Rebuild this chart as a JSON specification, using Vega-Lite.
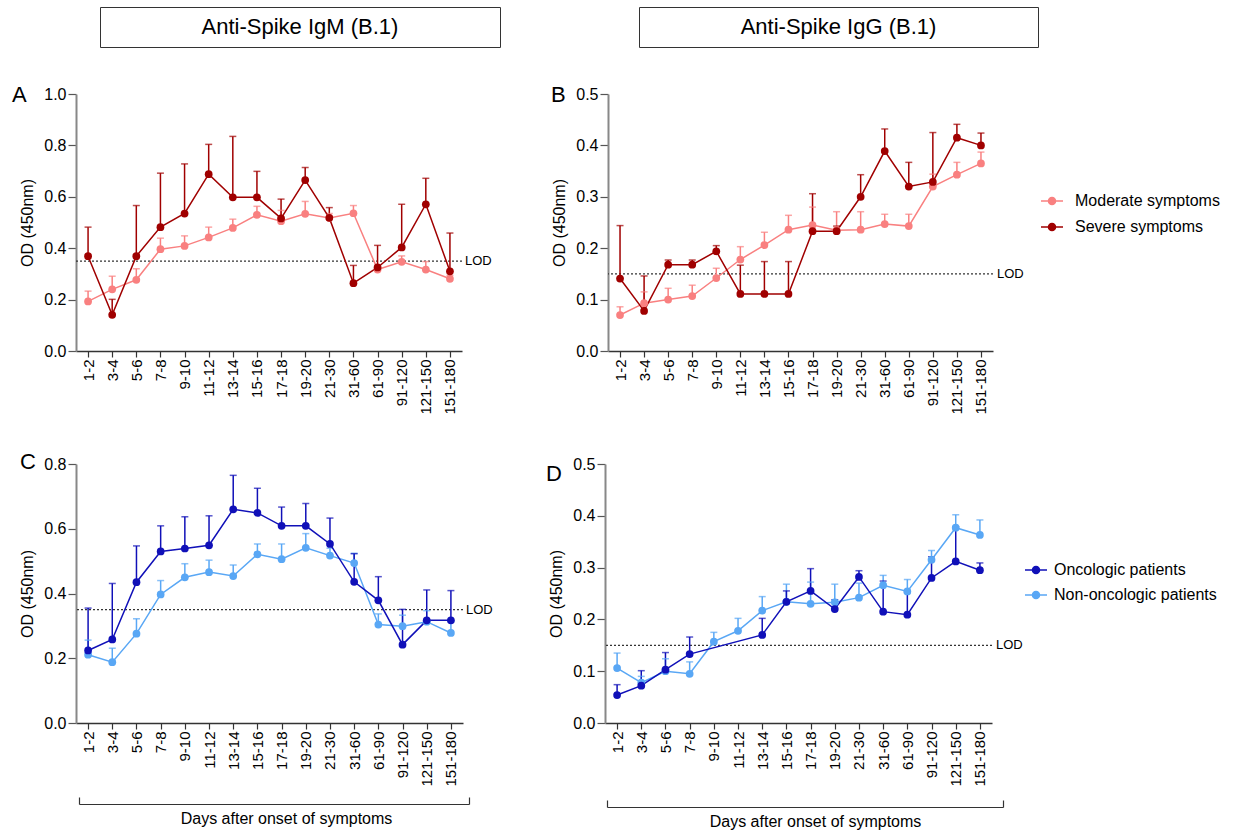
{
"$schema": "https://vega.github.io/schema/vega-lite/v6.json",
"padding": {"left": 12, "top": 6, "right": 2, "bottom": 1},
"background": "white",
"spacing": 36,
"resolve": {"scale": {"color": "independent"}, "legend": {"color": "independent"}},
"config": {
 "font": "Liberation Sans",
 "view": {"stroke": null},
 "axis": {"grid": false, "labelColor": "black", "titleColor": "black", "titleFontWeight": "normal", "labelFont": "Liberation Sans", "titleFont": "Liberation Sans"},
 "axisX": {"labelFontSize": 15, "labelPadding": 2, "tickSize": 6, "tickColor": "#333", "tickWidth": 1.2, "domainColor": "#333", "domainWidth": 1.5},
 "axisY": {"labelFontSize": 16, "titleFontSize": 16, "tickSize": 8, "tickColor": "#555", "tickWidth": 1.2, "domainColor": "#888", "domainWidth": 2, "labelPadding": 2, "titlePadding": 8},
 "legend": {"labelFont": "Liberation Sans", "labelColor": "black", "labelLimit": 0},
 "title": {"font": "Liberation Sans", "color": "black", "fontWeight": "normal"}
},
"datasets": {
 "igm_sym": [
  {"day":"1-2","group":"Moderate symptoms","od":0.193,"hi":0.233},
  {"day":"3-4","group":"Moderate symptoms","od":0.240,"hi":0.291},
  {"day":"5-6","group":"Moderate symptoms","od":0.277,"hi":0.320},
  {"day":"7-8","group":"Moderate symptoms","od":0.396,"hi":0.439},
  {"day":"9-10","group":"Moderate symptoms","od":0.409,"hi":0.448},
  {"day":"11-12","group":"Moderate symptoms","od":0.442,"hi":0.482},
  {"day":"13-14","group":"Moderate symptoms","od":0.479,"hi":0.513},
  {"day":"15-16","group":"Moderate symptoms","od":0.530,"hi":0.563},
  {"day":"17-18","group":"Moderate symptoms","od":0.505,"hi":0.547},
  {"day":"19-20","group":"Moderate symptoms","od":0.534,"hi":0.582},
  {"day":"21-30","group":"Moderate symptoms","od":0.518,"hi":0.535},
  {"day":"31-60","group":"Moderate symptoms","od":0.536,"hi":0.566},
  {"day":"61-90","group":"Moderate symptoms","od":0.317,"hi":0.330},
  {"day":"91-120","group":"Moderate symptoms","od":0.347,"hi":0.370},
  {"day":"121-150","group":"Moderate symptoms","od":0.317,"hi":0.348},
  {"day":"151-180","group":"Moderate symptoms","od":0.281,"hi":0.294},
  {"day":"1-2","group":"Severe symptoms","od":0.369,"hi":0.482},
  {"day":"3-4","group":"Severe symptoms","od":0.141,"hi":0.201},
  {"day":"5-6","group":"Severe symptoms","od":0.369,"hi":0.566},
  {"day":"7-8","group":"Severe symptoms","od":0.482,"hi":0.692},
  {"day":"9-10","group":"Severe symptoms","od":0.535,"hi":0.728},
  {"day":"11-12","group":"Severe symptoms","od":0.688,"hi":0.804},
  {"day":"13-14","group":"Severe symptoms","od":0.598,"hi":0.835},
  {"day":"15-16","group":"Severe symptoms","od":0.598,"hi":0.699},
  {"day":"17-18","group":"Severe symptoms","od":0.516,"hi":0.591},
  {"day":"19-20","group":"Severe symptoms","od":0.665,"hi":0.714},
  {"day":"21-30","group":"Severe symptoms","od":0.518,"hi":0.558},
  {"day":"31-60","group":"Severe symptoms","od":0.264,"hi":0.333},
  {"day":"61-90","group":"Severe symptoms","od":0.325,"hi":0.411},
  {"day":"91-120","group":"Severe symptoms","od":0.403,"hi":0.571},
  {"day":"121-150","group":"Severe symptoms","od":0.571,"hi":0.672},
  {"day":"151-180","group":"Severe symptoms","od":0.310,"hi":0.459}
 ],
 "igg_sym": [
  {"day":"1-2","group":"Moderate symptoms","od":0.070,"hi":0.086},
  {"day":"3-4","group":"Moderate symptoms","od":0.093,"hi":0.115},
  {"day":"5-6","group":"Moderate symptoms","od":0.100,"hi":0.122},
  {"day":"7-8","group":"Moderate symptoms","od":0.107,"hi":0.128},
  {"day":"9-10","group":"Moderate symptoms","od":0.142,"hi":0.161},
  {"day":"11-12","group":"Moderate symptoms","od":0.178,"hi":0.203},
  {"day":"13-14","group":"Moderate symptoms","od":0.206,"hi":0.231},
  {"day":"15-16","group":"Moderate symptoms","od":0.236,"hi":0.264},
  {"day":"17-18","group":"Moderate symptoms","od":0.245,"hi":0.280},
  {"day":"19-20","group":"Moderate symptoms","od":0.235,"hi":0.271},
  {"day":"21-30","group":"Moderate symptoms","od":0.236,"hi":0.271},
  {"day":"31-60","group":"Moderate symptoms","od":0.247,"hi":0.266},
  {"day":"61-90","group":"Moderate symptoms","od":0.243,"hi":0.266},
  {"day":"91-120","group":"Moderate symptoms","od":0.320,"hi":0.344},
  {"day":"121-150","group":"Moderate symptoms","od":0.343,"hi":0.367},
  {"day":"151-180","group":"Moderate symptoms","od":0.365,"hi":0.387},
  {"day":"1-2","group":"Severe symptoms","od":0.141,"hi":0.244},
  {"day":"3-4","group":"Severe symptoms","od":0.078,"hi":0.146},
  {"day":"5-6","group":"Severe symptoms","od":0.168,"hi":0.177},
  {"day":"7-8","group":"Severe symptoms","od":0.168,"hi":0.177},
  {"day":"9-10","group":"Severe symptoms","od":0.194,"hi":0.205},
  {"day":"11-12","group":"Severe symptoms","od":0.111,"hi":0.167},
  {"day":"13-14","group":"Severe symptoms","od":0.111,"hi":0.174},
  {"day":"15-16","group":"Severe symptoms","od":0.111,"hi":0.174},
  {"day":"17-18","group":"Severe symptoms","od":0.233,"hi":0.306},
  {"day":"19-20","group":"Severe symptoms","od":0.233,"hi":0.243},
  {"day":"21-30","group":"Severe symptoms","od":0.300,"hi":0.343},
  {"day":"31-60","group":"Severe symptoms","od":0.389,"hi":0.432},
  {"day":"61-90","group":"Severe symptoms","od":0.320,"hi":0.367},
  {"day":"91-120","group":"Severe symptoms","od":0.329,"hi":0.425},
  {"day":"121-150","group":"Severe symptoms","od":0.415,"hi":0.441},
  {"day":"151-180","group":"Severe symptoms","od":0.400,"hi":0.424}
 ],
 "igm_onc": [
  {"day":"1-2","group":"Non-oncologic patients","od":0.211,"hi":0.256},
  {"day":"3-4","group":"Non-oncologic patients","od":0.188,"hi":0.231},
  {"day":"5-6","group":"Non-oncologic patients","od":0.276,"hi":0.322},
  {"day":"7-8","group":"Non-oncologic patients","od":0.397,"hi":0.440},
  {"day":"9-10","group":"Non-oncologic patients","od":0.450,"hi":0.492},
  {"day":"11-12","group":"Non-oncologic patients","od":0.466,"hi":0.503},
  {"day":"13-14","group":"Non-oncologic patients","od":0.454,"hi":0.488},
  {"day":"15-16","group":"Non-oncologic patients","od":0.521,"hi":0.553},
  {"day":"17-18","group":"Non-oncologic patients","od":0.506,"hi":0.553},
  {"day":"19-20","group":"Non-oncologic patients","od":0.541,"hi":0.585},
  {"day":"21-30","group":"Non-oncologic patients","od":0.517,"hi":0.540},
  {"day":"31-60","group":"Non-oncologic patients","od":0.494,"hi":0.524},
  {"day":"61-90","group":"Non-oncologic patients","od":0.304,"hi":0.337},
  {"day":"91-120","group":"Non-oncologic patients","od":0.299,"hi":0.333},
  {"day":"121-150","group":"Non-oncologic patients","od":0.313,"hi":0.347},
  {"day":"151-180","group":"Non-oncologic patients","od":0.278,"hi":0.313},
  {"day":"1-2","group":"Oncologic patients","od":0.224,"hi":0.355},
  {"day":"3-4","group":"Oncologic patients","od":0.258,"hi":0.431},
  {"day":"5-6","group":"Oncologic patients","od":0.435,"hi":0.547},
  {"day":"7-8","group":"Oncologic patients","od":0.530,"hi":0.609},
  {"day":"9-10","group":"Oncologic patients","od":0.539,"hi":0.637},
  {"day":"11-12","group":"Oncologic patients","od":0.549,"hi":0.640},
  {"day":"13-14","group":"Oncologic patients","od":0.660,"hi":0.765},
  {"day":"15-16","group":"Oncologic patients","od":0.649,"hi":0.725},
  {"day":"17-18","group":"Oncologic patients","od":0.609,"hi":0.667},
  {"day":"19-20","group":"Oncologic patients","od":0.609,"hi":0.678},
  {"day":"21-30","group":"Oncologic patients","od":0.553,"hi":0.633},
  {"day":"31-60","group":"Oncologic patients","od":0.436,"hi":0.523},
  {"day":"61-90","group":"Oncologic patients","od":0.379,"hi":0.452},
  {"day":"91-120","group":"Oncologic patients","od":0.242,"hi":0.351},
  {"day":"121-150","group":"Oncologic patients","od":0.317,"hi":0.411},
  {"day":"151-180","group":"Oncologic patients","od":0.317,"hi":0.409}
 ],
 "igg_onc": [
  {"day":"1-2","group":"Non-oncologic patients","od":0.106,"hi":0.135},
  {"day":"3-4","group":"Non-oncologic patients","od":0.078,"hi":0.090},
  {"day":"5-6","group":"Non-oncologic patients","od":0.100,"hi":0.124},
  {"day":"7-8","group":"Non-oncologic patients","od":0.095,"hi":0.118},
  {"day":"9-10","group":"Non-oncologic patients","od":0.157,"hi":0.175},
  {"day":"11-12","group":"Non-oncologic patients","od":0.178,"hi":0.202},
  {"day":"13-14","group":"Non-oncologic patients","od":0.217,"hi":0.244},
  {"day":"15-16","group":"Non-oncologic patients","od":0.234,"hi":0.268},
  {"day":"17-18","group":"Non-oncologic patients","od":0.230,"hi":0.272},
  {"day":"19-20","group":"Non-oncologic patients","od":0.233,"hi":0.268},
  {"day":"21-30","group":"Non-oncologic patients","od":0.242,"hi":0.270},
  {"day":"31-60","group":"Non-oncologic patients","od":0.266,"hi":0.285},
  {"day":"61-90","group":"Non-oncologic patients","od":0.254,"hi":0.277},
  {"day":"91-120","group":"Non-oncologic patients","od":0.315,"hi":0.333},
  {"day":"121-150","group":"Non-oncologic patients","od":0.377,"hi":0.402},
  {"day":"151-180","group":"Non-oncologic patients","od":0.363,"hi":0.392},
  {"day":"1-2","group":"Oncologic patients","od":0.054,"hi":0.074},
  {"day":"3-4","group":"Oncologic patients","od":0.072,"hi":0.101},
  {"day":"5-6","group":"Oncologic patients","od":0.103,"hi":0.136},
  {"day":"7-8","group":"Oncologic patients","od":0.133,"hi":0.166},
  {"day":"13-14","group":"Oncologic patients","od":0.170,"hi":0.202},
  {"day":"15-16","group":"Oncologic patients","od":0.234,"hi":0.255},
  {"day":"17-18","group":"Oncologic patients","od":0.255,"hi":0.298},
  {"day":"19-20","group":"Oncologic patients","od":0.220,"hi":0.238},
  {"day":"21-30","group":"Oncologic patients","od":0.282,"hi":0.294},
  {"day":"31-60","group":"Oncologic patients","od":0.215,"hi":0.274},
  {"day":"61-90","group":"Oncologic patients","od":0.209,"hi":0.252},
  {"day":"91-120","group":"Oncologic patients","od":0.280,"hi":0.321},
  {"day":"121-150","group":"Oncologic patients","od":0.312,"hi":0.379},
  {"day":"151-180","group":"Oncologic patients","od":0.295,"hi":0.309}
 ]
},
"vconcat": [
 {
  "spacing": 0,
  "hconcat": [
   {"width": 23, "height": 40, "data": {"values": [{"t": ""}]}, "mark": "text", "encoding": {"text": {"field": "t"}}},
   {
    "spacing": 137,
    "hconcat": [
     {"width": 400, "height": 40, "view": {"stroke": "#333", "strokeWidth": 1}, "data": {"values": [{"t": "Anti-Spike IgM (B.1)"}]}, "mark": {"type": "text", "fontSize": 22, "color": "black"}, "encoding": {"text": {"field": "t"}}},
     {"width": 399, "height": 40, "view": {"stroke": "#333", "strokeWidth": 1}, "data": {"values": [{"t": "Anti-Spike IgG (B.1)"}]}, "mark": {"type": "text", "fontSize": 22, "color": "black"}, "encoding": {"text": {"field": "t"}}}
    ]
   }
  ]
 },
 {
  "spacing": 146,
  "bounds": "flush",
  "resolve": {"scale": {"color": "independent"}, "legend": {"color": "independent"}},
  "hconcat": [
   {
    "width": 386, "height": 257,
    "title": {"text": "A", "anchor": "start", "frame": "group", "dx": -64, "offset": -38, "fontSize": 22, "baseline": "alphabetic"},
    "layer": [
     {"data": {"values": [{"label": "LOD"}]}, "mark": {"type": "rule", "strokeDash": [2, 2], "color": "#333", "strokeWidth": 1.2}, "encoding": {"y": {"datum": 0.35, "type": "quantitative", "scale": {"domain": [0, 1], "nice": false}, "title": "OD (450nm)"}}},
     {"data": {"values": [{"label": "LOD"}]}, "mark": {"type": "text", "align": "left", "baseline": "middle", "dx": 15, "fontSize": 13, "color": "black"}, "encoding": {"x": {"datum": "151-180", "type": "ordinal", "scale": {"type": "point", "padding": 0.5, "domain": ["1-2","3-4","5-6","7-8","9-10","11-12","13-14","15-16","17-18","19-20","21-30","31-60","61-90","91-120","121-150","151-180"]}, "title": null}, "y": {"datum": 0.35, "type": "quantitative", "scale": {"domain": [0, 1], "nice": false}, "title": "OD (450nm)"}, "text": {"field": "label"}}},
     {
      "data": {"name": "igm_sym"},
      "encoding": {
       "x": {"field": "day", "type": "ordinal", "title": null, "scale": {"type": "point", "padding": 0.5, "domain": ["1-2","3-4","5-6","7-8","9-10","11-12","13-14","15-16","17-18","19-20","21-30","31-60","61-90","91-120","121-150","151-180"]}, "axis": {"labelAngle": -90}},
       "y": {"field": "od", "type": "quantitative", "title": "OD (450nm)", "scale": {"domain": [0, 1], "nice": false}, "axis": {"values": [0, 0.2, 0.4, 0.6, 0.8, 1.0], "format": ".1f"}},
       "color": {"field": "group", "type": "nominal", "scale": {"domain": ["Moderate symptoms", "Severe symptoms"], "range": ["#F98080", "#A00000"]}, "legend": null}
      },
      "layer": [
       {"mark": {"type": "rule", "strokeWidth": 1.5}, "encoding": {"y2": {"field": "hi"}}},
       {"mark": {"type": "tick", "size": 7, "thickness": 1.5}, "encoding": {"y": {"field": "hi", "type": "quantitative", "title": "OD (450nm)", "scale": {"domain": [0, 1], "nice": false}, "axis": {"values": [0, 0.2, 0.4, 0.6, 0.8, 1.0], "format": ".1f"}}}},
       {"mark": {"type": "line", "strokeWidth": 1.5}},
       {"mark": {"type": "point", "filled": true, "size": 60, "opacity": 1}}
      ]
     }
    ]
   },
   {
    "width": 385, "height": 257,
    "title": {"text": "B", "anchor": "start", "frame": "group", "dx": -57, "offset": -38, "fontSize": 22, "baseline": "alphabetic"},
    "layer": [
     {"data": {"values": [{"label": "LOD"}]}, "mark": {"type": "rule", "strokeDash": [2, 2], "color": "#333", "strokeWidth": 1.2}, "encoding": {"y": {"datum": 0.15, "type": "quantitative", "scale": {"domain": [0, 0.5], "nice": false}, "title": "OD (450nm)"}}},
     {"data": {"values": [{"label": "LOD"}]}, "mark": {"type": "text", "align": "left", "baseline": "middle", "dx": 16, "fontSize": 13, "color": "black"}, "encoding": {"x": {"datum": "151-180", "type": "ordinal", "scale": {"type": "point", "padding": 0.5, "domain": ["1-2","3-4","5-6","7-8","9-10","11-12","13-14","15-16","17-18","19-20","21-30","31-60","61-90","91-120","121-150","151-180"]}, "title": null}, "y": {"datum": 0.15, "type": "quantitative", "scale": {"domain": [0, 0.5], "nice": false}, "title": "OD (450nm)"}, "text": {"field": "label"}}},
     {
      "data": {"name": "igg_sym"},
      "encoding": {
       "x": {"field": "day", "type": "ordinal", "title": null, "scale": {"type": "point", "padding": 0.5, "domain": ["1-2","3-4","5-6","7-8","9-10","11-12","13-14","15-16","17-18","19-20","21-30","31-60","61-90","91-120","121-150","151-180"]}, "axis": {"labelAngle": -90}},
       "y": {"field": "od", "type": "quantitative", "title": "OD (450nm)", "scale": {"domain": [0, 0.5], "nice": false}, "axis": {"values": [0, 0.1, 0.2, 0.3, 0.4, 0.5], "format": ".1f"}},
       "color": {"field": "group", "type": "nominal", "scale": {"domain": ["Moderate symptoms", "Severe symptoms"], "range": ["#F98080", "#A00000"]},
        "legend": {"title": null, "orient": "none", "legendX": 432, "legendY": 95, "padding": 0, "labelFontSize": 16, "labelOffset": 11, "rowPadding": 6, "symbolType": "M-1,0L1,0M0.32,0A0.32,0.32,0,1,1,-0.32,0A0.32,0.32,0,1,1,0.32,0Z", "symbolSize": 484, "symbolStrokeWidth": 1.5,
         "encode": {"symbols": {"update": {
          "fill": [{"test": "datum.value === 'Moderate symptoms'", "value": "#F98080"}, {"value": "#A00000"}],
          "stroke": [{"test": "datum.value === 'Moderate symptoms'", "value": "#F98080"}, {"value": "#A00000"}],
          "strokeWidth": {"value": 1.5}, "opacity": {"value": 1}}}}}}
      },
      "layer": [
       {"mark": {"type": "rule", "strokeWidth": 1.5}, "encoding": {"y2": {"field": "hi"}}},
       {"mark": {"type": "tick", "size": 7, "thickness": 1.5}, "encoding": {"y": {"field": "hi", "type": "quantitative", "title": "OD (450nm)", "scale": {"domain": [0, 0.5], "nice": false}, "axis": {"values": [0, 0.1, 0.2, 0.3, 0.4, 0.5], "format": ".1f"}}}},
       {"mark": {"type": "line", "strokeWidth": 1.5}},
       {"mark": {"type": "point", "filled": true, "size": 60, "opacity": 1}}
      ]
     }
    ]
   }
  ]
 },
 {
  "spacing": 142,
  "bounds": "flush",
  "resolve": {"scale": {"color": "independent"}, "legend": {"color": "independent"}},
  "hconcat": [
   {
    "width": 387, "height": 259,
    "title": {"text": "C", "anchor": "start", "frame": "group", "dx": -56, "offset": -35, "fontSize": 22, "baseline": "alphabetic"},
    "resolve": {"scale": {"x": "independent"}, "axis": {"x": "independent"}},
    "layer": [
     {
      "layer": [
       {"data": {"values": [{"label": "LOD"}]}, "mark": {"type": "rule", "strokeDash": [2, 2], "color": "#333", "strokeWidth": 1.2}, "encoding": {"y": {"datum": 0.35, "type": "quantitative", "scale": {"domain": [0, 0.8], "nice": false}, "title": "OD (450nm)"}}},
       {"data": {"values": [{"label": "LOD"}]}, "mark": {"type": "text", "align": "left", "baseline": "middle", "dx": 15, "fontSize": 13, "color": "black"}, "encoding": {"x": {"datum": "151-180", "type": "ordinal", "scale": {"type": "point", "padding": 0.5, "domain": ["1-2","3-4","5-6","7-8","9-10","11-12","13-14","15-16","17-18","19-20","21-30","31-60","61-90","91-120","121-150","151-180"]}, "title": null, "axis": {"labelAngle": -90, "orient": "bottom"}}, "y": {"datum": 0.35, "type": "quantitative", "scale": {"domain": [0, 0.8], "nice": false}, "title": "OD (450nm)"}, "text": {"field": "label"}}},
       {
        "data": {"name": "igm_onc"},
        "encoding": {
         "x": {"field": "day", "type": "ordinal", "title": null, "scale": {"type": "point", "padding": 0.5, "domain": ["1-2","3-4","5-6","7-8","9-10","11-12","13-14","15-16","17-18","19-20","21-30","31-60","61-90","91-120","121-150","151-180"]}, "axis": {"labelAngle": -90, "orient": "bottom"}},
         "y": {"field": "od", "type": "quantitative", "title": "OD (450nm)", "scale": {"domain": [0, 0.8], "nice": false}, "axis": {"values": [0, 0.2, 0.4, 0.6, 0.8], "format": ".1f"}},
         "color": {"field": "group", "type": "nominal", "scale": {"domain": ["Oncologic patients", "Non-oncologic patients"], "range": ["#1010B8", "#59A7F5"]}, "legend": null}
        },
        "layer": [
         {"mark": {"type": "rule", "strokeWidth": 1.5}, "encoding": {"y2": {"field": "hi"}}},
         {"mark": {"type": "tick", "size": 7, "thickness": 1.5}, "encoding": {"y": {"field": "hi", "type": "quantitative", "title": "OD (450nm)", "scale": {"domain": [0, 0.8], "nice": false}, "axis": {"values": [0, 0.2, 0.4, 0.6, 0.8], "format": ".1f"}}}},
         {"mark": {"type": "line", "strokeWidth": 1.5}},
         {"mark": {"type": "point", "filled": true, "size": 60, "opacity": 1}}
        ]
       }
      ]
     },
     {
      "data": {"values": [{"span": 0}, {"span": 1}]},
      "mark": {"type": "point", "opacity": 0},
      "encoding": {"x": {"field": "span", "type": "quantitative", "scale": {"domain": [0, 1], "range": [3, 393], "nice": false, "zero": false},
       "axis": {"orient": "bottom", "offset": 81, "values": [0, 1], "labels": false, "tickSize": -7, "tickColor": "#333", "tickWidth": 1.2, "domainColor": "#333", "domainWidth": 1.2, "title": "Days after onset of symptoms", "titleFontSize": 16, "titlePadding": 6, "titleX": 210}}}
     }
    ]
   },
   {
    "width": 387, "height": 259,
    "title": {"text": "D", "anchor": "start", "frame": "group", "dx": -59, "offset": -47, "fontSize": 22, "baseline": "alphabetic"},
    "resolve": {"scale": {"x": "independent"}, "axis": {"x": "independent"}},
    "layer": [
     {
      "layer": [
       {"data": {"values": [{"label": "LOD"}]}, "mark": {"type": "rule", "strokeDash": [2, 2], "color": "#333", "strokeWidth": 1.2}, "encoding": {"y": {"datum": 0.15, "type": "quantitative", "scale": {"domain": [0, 0.5], "nice": false}, "title": "OD (450nm)"}}},
       {"data": {"values": [{"label": "LOD"}]}, "mark": {"type": "text", "align": "left", "baseline": "middle", "dx": 16, "fontSize": 13, "color": "black"}, "encoding": {"x": {"datum": "151-180", "type": "ordinal", "scale": {"type": "point", "padding": 0.5, "domain": ["1-2","3-4","5-6","7-8","9-10","11-12","13-14","15-16","17-18","19-20","21-30","31-60","61-90","91-120","121-150","151-180"]}, "title": null, "axis": {"labelAngle": -90, "orient": "bottom"}}, "y": {"datum": 0.15, "type": "quantitative", "scale": {"domain": [0, 0.5], "nice": false}, "title": "OD (450nm)"}, "text": {"field": "label"}}},
       {
        "data": {"name": "igg_onc"},
        "encoding": {
         "x": {"field": "day", "type": "ordinal", "title": null, "scale": {"type": "point", "padding": 0.5, "domain": ["1-2","3-4","5-6","7-8","9-10","11-12","13-14","15-16","17-18","19-20","21-30","31-60","61-90","91-120","121-150","151-180"]}, "axis": {"labelAngle": -90, "orient": "bottom"}},
         "y": {"field": "od", "type": "quantitative", "title": "OD (450nm)", "scale": {"domain": [0, 0.5], "nice": false}, "axis": {"values": [0, 0.1, 0.2, 0.3, 0.4, 0.5], "format": ".1f"}},
         "color": {"field": "group", "type": "nominal", "scale": {"domain": ["Oncologic patients", "Non-oncologic patients"], "range": ["#1010B8", "#59A7F5"]},
          "legend": {"title": null, "orient": "none", "legendX": 419, "legendY": 94, "padding": 0, "labelFontSize": 16, "labelOffset": 6, "rowPadding": 5, "symbolType": "M-1,0L1,0M0.32,0A0.32,0.32,0,1,1,-0.32,0A0.32,0.32,0,1,1,0.32,0Z", "symbolSize": 484, "symbolStrokeWidth": 1.5,
           "encode": {"symbols": {"update": {
            "fill": [{"test": "datum.value === 'Oncologic patients'", "value": "#1010B8"}, {"value": "#59A7F5"}],
            "stroke": [{"test": "datum.value === 'Oncologic patients'", "value": "#1010B8"}, {"value": "#59A7F5"}],
            "strokeWidth": {"value": 1.5}, "opacity": {"value": 1}}}}}}
        },
        "layer": [
         {"mark": {"type": "rule", "strokeWidth": 1.5}, "encoding": {"y2": {"field": "hi"}}},
         {"mark": {"type": "tick", "size": 7, "thickness": 1.5}, "encoding": {"y": {"field": "hi", "type": "quantitative", "title": "OD (450nm)", "scale": {"domain": [0, 0.5], "nice": false}, "axis": {"values": [0, 0.1, 0.2, 0.3, 0.4, 0.5], "format": ".1f"}}}},
         {"mark": {"type": "line", "strokeWidth": 1.5}},
         {"mark": {"type": "point", "filled": true, "size": 60, "opacity": 1}}
        ]
       }
      ]
     },
     {
      "data": {"values": [{"span": 0}, {"span": 1}]},
      "mark": {"type": "point", "opacity": 0},
      "encoding": {"x": {"field": "span", "type": "quantitative", "scale": {"domain": [0, 1], "range": [2, 398], "nice": false, "zero": false},
       "axis": {"orient": "bottom", "offset": 84, "values": [0, 1], "labels": false, "tickSize": -7, "tickColor": "#333", "tickWidth": 1.2, "domainColor": "#333", "domainWidth": 1.2, "title": "Days after onset of symptoms", "titleFontSize": 16, "titlePadding": 6, "titleX": 210}}}
     }
    ]
   }
  ]
 }
]
}
